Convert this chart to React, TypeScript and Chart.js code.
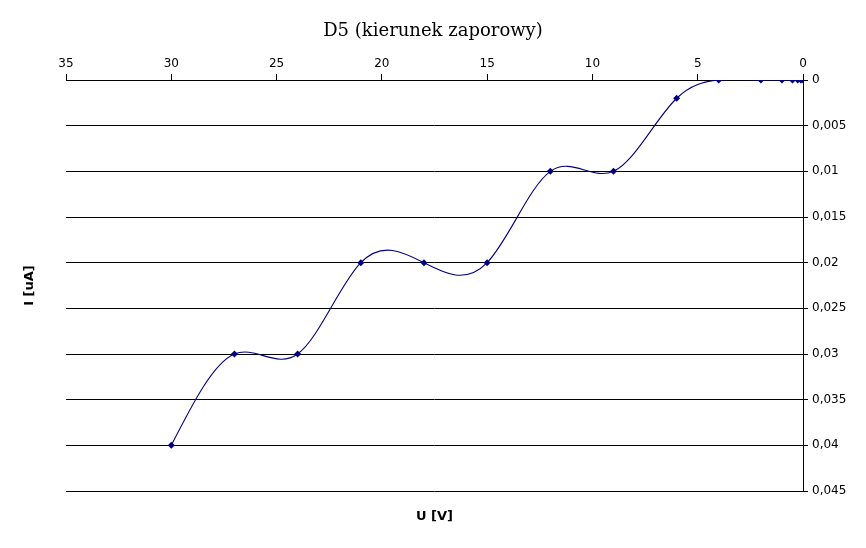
import React, { useEffect, useRef } from "react";
import { Chart, registerables } from "chart.js";

Chart.register(...registerables);

const voltages = [30, 27, 24, 21, 18, 15, 12, 9, 6, 4, 2, 1, 0.5, 0.25, 0.1, 0];
const currents = [0.04, 0.03, 0.03, 0.02, 0.02, 0.02, 0.01, 0.01, 0.002, 0, 0, 0, 0, 0, 0, 0];
const chartTitle = "D5 (kierunek zaporowy)";
const xTitle = "U [V]";
const yTitle = "I [uA]";

const NAVY = "#000080";
const SANS = "'DejaVu Sans', Verdana, sans-serif";

// Natural cubic spline smoothing (like the office "cubic spline" line), computed on pixel positions.
const splinePlugin = {
  id: "naturalSpline",
  beforeDatasetDraw(chart: any, args: any) {
    const meta = chart.getDatasetMeta(args.index);
    const line = meta.dataset;
    const pts = meta.data;
    if (!line || pts.length < 3) return;
    line.updateControlPoints(chart.chartArea, "x");
    const n = pts.length;
    const xs = pts.map((p: any) => p.x);
    const ys = pts.map((p: any) => p.y);
    const h: number[] = [];
    for (let i = 0; i < n - 1; i++) h.push(xs[i + 1] - xs[i]);
    const a = new Array(n).fill(0);
    const b = new Array(n).fill(1);
    const c = new Array(n).fill(0);
    const d = new Array(n).fill(0);
    for (let i = 1; i < n - 1; i++) {
      a[i] = h[i - 1];
      b[i] = 2 * (h[i - 1] + h[i]);
      c[i] = h[i];
      d[i] = 6 * ((ys[i + 1] - ys[i]) / h[i] - (ys[i] - ys[i - 1]) / h[i - 1]);
    }
    for (let i = 1; i < n; i++) {
      const w = a[i] / b[i - 1];
      b[i] -= w * c[i - 1];
      d[i] -= w * d[i - 1];
    }
    const M = new Array(n).fill(0);
    M[n - 1] = d[n - 1] / b[n - 1];
    for (let i = n - 2; i >= 0; i--) M[i] = (d[i] - c[i] * M[i + 1]) / b[i];
    const m: number[] = [];
    for (let i = 0; i < n - 1; i++) {
      m.push((ys[i + 1] - ys[i]) / h[i] - (h[i] * (2 * M[i] + M[i + 1])) / 6);
    }
    m.push((ys[n - 1] - ys[n - 2]) / h[n - 2] + (h[n - 2] * (M[n - 2] + 2 * M[n - 1])) / 6);
    for (let i = 0; i < n; i++) {
      const p = pts[i];
      const hp = i > 0 ? h[i - 1] : 0;
      const hn = i < n - 1 ? h[i] : 0;
      p.cp1x = xs[i] - hp / 3;
      p.cp1y = ys[i] - (m[i] * hp) / 3;
      p.cp2x = xs[i] + hn / 3;
      p.cp2y = ys[i] + (m[i] * hn) / 3;
    }
    line._path = undefined;
  },
};

export default function App() {
  const ref = useRef<HTMLCanvasElement | null>(null);

  useEffect(() => {
    if (!ref.current) return;
    const data = voltages.map((v, i) => ({ x: v, y: currents[i] }));
    const chart = new Chart(ref.current, {
      type: "line",
      data: {
        datasets: [
          {
            data,
            borderColor: NAVY,
            backgroundColor: NAVY,
            borderWidth: 1.1,
            pointStyle: "rectRot",
            pointRadius: 3.5,
            pointBorderWidth: 0,
            pointBackgroundColor: NAVY,
            tension: 0.3,
            fill: false,
          },
        ],
      },
      plugins: [splinePlugin],
      options: {
        animation: false,
        responsive: false,
        maintainAspectRatio: false,
        layout: { padding: 0 },
        plugins: {
          legend: { display: false },
          tooltip: { enabled: false },
          title: {
            display: true,
            text: chartTitle,
            color: "#000",
            font: { family: "'DejaVu Serif', serif", size: 18, weight: "normal" },
            padding: { top: 21, bottom: 0 },
          },
        },
        scales: {
          x: {
            type: "linear",
            position: "top",
            reverse: true,
            min: 0,
            max: 35,
            afterFit: (s: any) => {
              s.height = 37.4;
            },
            ticks: {
              stepSize: 5,
              color: "#000",
              font: { family: SANS, size: 12 },
              padding: 3,
              maxRotation: 0,
            },
            grid: {
              drawOnChartArea: false,
              drawTicks: true,
              tickLength: 6,
              color: "#000",
            },
            border: { display: true, color: "#000", width: 1 },
          },
          xb: {
            type: "linear",
            position: "bottom",
            min: 0,
            max: 35,
            afterFit: (s: any) => {
              s.height = 57;
            },
            ticks: { display: false },
            grid: { display: false },
            border: { display: false },
            title: {
              display: true,
              text: xTitle,
              color: "#000",
              font: { family: SANS, size: 13, weight: "bold" },
              padding: { top: 0, bottom: 24 },
            },
          },
          y: {
            type: "linear",
            position: "right",
            reverse: true,
            min: 0,
            max: 0.045,
            afterFit: (s: any) => {
              s.width = 63;
            },
            ticks: {
              stepSize: 0.005,
              color: "#000",
              font: { family: SANS, size: 12 },
              padding: 4,
              callback: (v: any) => String(Math.round(Number(v) * 1000) / 1000).replace(".", ","),
            },
            grid: {
              drawOnChartArea: true,
              drawTicks: true,
              tickLength: 5,
              color: "#000",
              lineWidth: 1,
            },
            border: { display: true, color: "#000", width: 1 },
          },
          yl: {
            type: "linear",
            position: "left",
            min: 0,
            max: 0.045,
            afterFit: (s: any) => {
              s.width = 66;
            },
            ticks: { display: false },
            grid: { display: false },
            border: { display: false },
            title: {
              display: true,
              text: yTitle,
              color: "#000",
              font: { family: SANS, size: 13, weight: "bold" },
              padding: { top: 22, bottom: 0 },
            },
          },
        },
      },
    });
    return () => chart.destroy();
  }, []);

  return (
    <div style={{ position: "absolute", left: 0, top: 0, width: 866, height: 548, background: "#fff" }}>
      <canvas ref={ref} width={866} height={548} style={{ width: 866, height: 548 }} />
    </div>
  );
}
